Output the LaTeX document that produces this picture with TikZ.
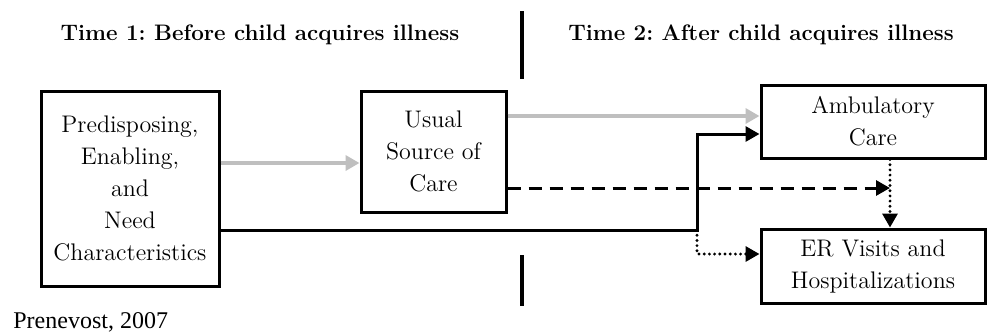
\documentclass[tikz,border=0pt]{standalone}
\usepackage{fontspec}
\newfontfamily\credfont{Liberation Serif}
\usetikzlibrary{positioning, arrows.meta}
\frenchspacing

\begin{document}
\begin{tikzpicture}[x=0.5pt, y=-0.5pt,
    box/.style={rectangle, draw=black, line width=1.5pt, align=center, inner sep=2pt, font=\fontsize{12}{16}\selectfont},
    title/.style={font=\bfseries\fontsize{11.2}{14}\selectfont},
    grayarrow/.style={draw=black!25, line width=1.8pt, -{Triangle[length=7pt, width=7.5pt]}},
    blackarrow/.style={line width=1.5pt, -{Triangle[length=7pt, width=7.5pt]}},
    dashedarrow/.style={line width=1.5pt, dash pattern=on 6.5pt off 4pt, -{Triangle[length=7pt, width=7.5pt]}},
    dottedarrow/.style={line width=1.6pt, line cap=round, dash pattern=on 0pt off 2.6pt, -{Triangle[length=7pt, width=7.5pt]}}]
            \useasboundingbox (0,0) rectangle (997,333);

            \node[title] (t1) at (260,35) {Time 1: Before child acquires illness};
            \node[title] (t2) at (761,35) {Time 2: After child acquires illness};
            \draw[line width=2pt] (522,11) -- (522,79);
            \draw[line width=2pt] (522,255) -- (522,306);

            \node[box, minimum width=89pt, minimum height=97.5pt] (pred) at (130,188.5) {Predisposing,\\Enabling,\\and\\Need\\Characteristics};
            \node[box, minimum width=72.5pt, minimum height=60.5pt] (usc) at (433.5,151.5) {Usual\\Source of\\Care};
            \node[box, minimum width=112pt, minimum height=36.5pt] (amb) at (873,121.5) {Ambulatory\\Care};
            \node[box, minimum width=112pt, minimum height=37pt] (er) at (873,266) {ER Visits and\\Hospitalizations};
            \node[anchor=base west, inner sep=0pt, font=\credfont\fontsize{12}{14}\selectfont] (cred) at (13,328) {Prenevost, 2007};

            \coordinate (meet) at (890,188);
            \coordinate (bend) at (697,230);

            \draw[grayarrow] (pred.east |- 0,163) -- (usc.west |- 0,163);
            \draw[grayarrow] (usc.east |- 0,116) -- (amb.west |- 0,116);
            \draw[dashedarrow] (usc.east |- meet) -- (meet);
            \draw[dottedarrow] (amb.south -| meet) -- (er.north -| meet);
            \draw[blackarrow] (pred.east |- bend) -- (bend) |- (amb.west |- 0,134);
            \draw[dottedarrow] (bend) |- (er.west |- 0,254);
        \end{tikzpicture}
\end{document}
